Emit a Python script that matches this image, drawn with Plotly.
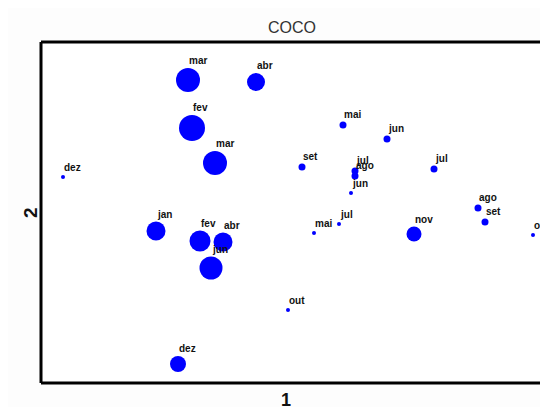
import plotly.graph_objects as go

# Correspondence-analysis style scores (dimension 1, dimension 2), weights (marker size), month labels
labels = ["mar", "abr", "fev", "mar", "jan", "fev", "abr", "jun", "dez", "dez",
          "mai", "jun", "set", "jul", "ago", "jun", "jul", "ago", "set", "mai",
          "jul", "nov", "out", "out"]
dim1 = [-0.49, -0.15, -0.47, -0.355, -0.65, -0.43, -0.315, -0.375, -0.54, -1.115,
        0.285, 0.505, 0.08, 0.345, 0.345, 0.325, 0.74, 0.96, 0.995, 0.14,
        0.265, 0.64, 1.235, 0.01]
dim2 = [0.665, 0.655, 0.425, 0.25, -0.09, -0.14, -0.145, -0.275, -0.755, 0.18,
        0.44, 0.37, 0.23, 0.21, 0.185, 0.10, 0.22, 0.025, -0.045, -0.10,
        -0.055, -0.105, -0.11, -0.485]
weight = [24, 18, 26, 24, 19, 21, 19, 23, 16, 4,
          7, 7, 7, 7, 7, 4, 7, 7, 7, 4,
          4, 15, 4, 4]

title_text = "COCO"
xlabel = "1"
ylabel = "2"

# page body has an 8px margin; figure sized to fill the rest of the window
W, H = 540, 399
L, R, T, B = 33, 0, 34, 24
PW, PH = W - L - R, H - T - B

FONT = "Liberation Sans, Arial"

fig = go.Figure()
fig.add_trace(go.Scatter(
    x=dim1, y=dim2, mode="markers",
    marker=dict(size=weight, color="#0000ff", opacity=1, line=dict(width=0)),
    hoverinfo="text", text=labels, showlegend=False,
))

for lx, ly, s, t in zip(dim1, dim2, weight, labels):
    fig.add_annotation(
        x=lx, y=ly, xref="x", yref="y", text=t, showarrow=False,
        xanchor="left", yanchor="bottom", xshift=-1, yshift=s / 2,
        font=dict(family=FONT, size=10, color="#111111", weight="bold"),
    )

# title
fig.add_annotation(x=(284 - L) / PW, y=1 + (T - 19) / PH, xref="paper", yref="paper",
                   text=title_text, showarrow=False, xanchor="center", yanchor="middle",
                   font=dict(family=FONT, size=16, color="#333333"))
# axis titles
fig.add_annotation(x=(278 - L) / PW, y=-(392 - (H - B)) / PH,
                   xref="paper", yref="paper", text=xlabel, showarrow=False,
                   xanchor="center", yanchor="middle",
                   font=dict(family=FONT, size=18, color="#111111", weight="bold"))
fig.add_annotation(x=-(L - 22) / PW, y=((H - B) - 205) / PH,
                   xref="paper", yref="paper", text=ylabel, showarrow=False,
                   textangle=-90, xanchor="center", yanchor="middle",
                   font=dict(family=FONT, size=19, color="#111111", weight="bold"))

# frame: left, top, bottom (right edge is cut off by the image)
for x0, y0, x1, y1 in [(0, 0, 0, 1), (0, 1, 1.05, 1), (0, 0, 1.05, 0)]:
    fig.add_shape(type="line", xref="paper", yref="paper",
                  x0=x0, y0=y0, x1=x1, y1=y1,
                  line=dict(color="black", width=3))

fig.update_xaxes(range=[-1.225, 1.31], showticklabels=False, showgrid=False,
                 zeroline=False, showline=False, ticks="")
fig.update_yaxes(range=[-0.85, 0.855], showticklabels=False, showgrid=False,
                 zeroline=False, showline=False, ticks="")

fig.update_layout(
    width=W, height=H,
    margin=dict(l=L, r=R, t=T, b=B),
    paper_bgcolor="#fdfdfd", plot_bgcolor="#ffffff",
)

fig.write_html("out.html")
